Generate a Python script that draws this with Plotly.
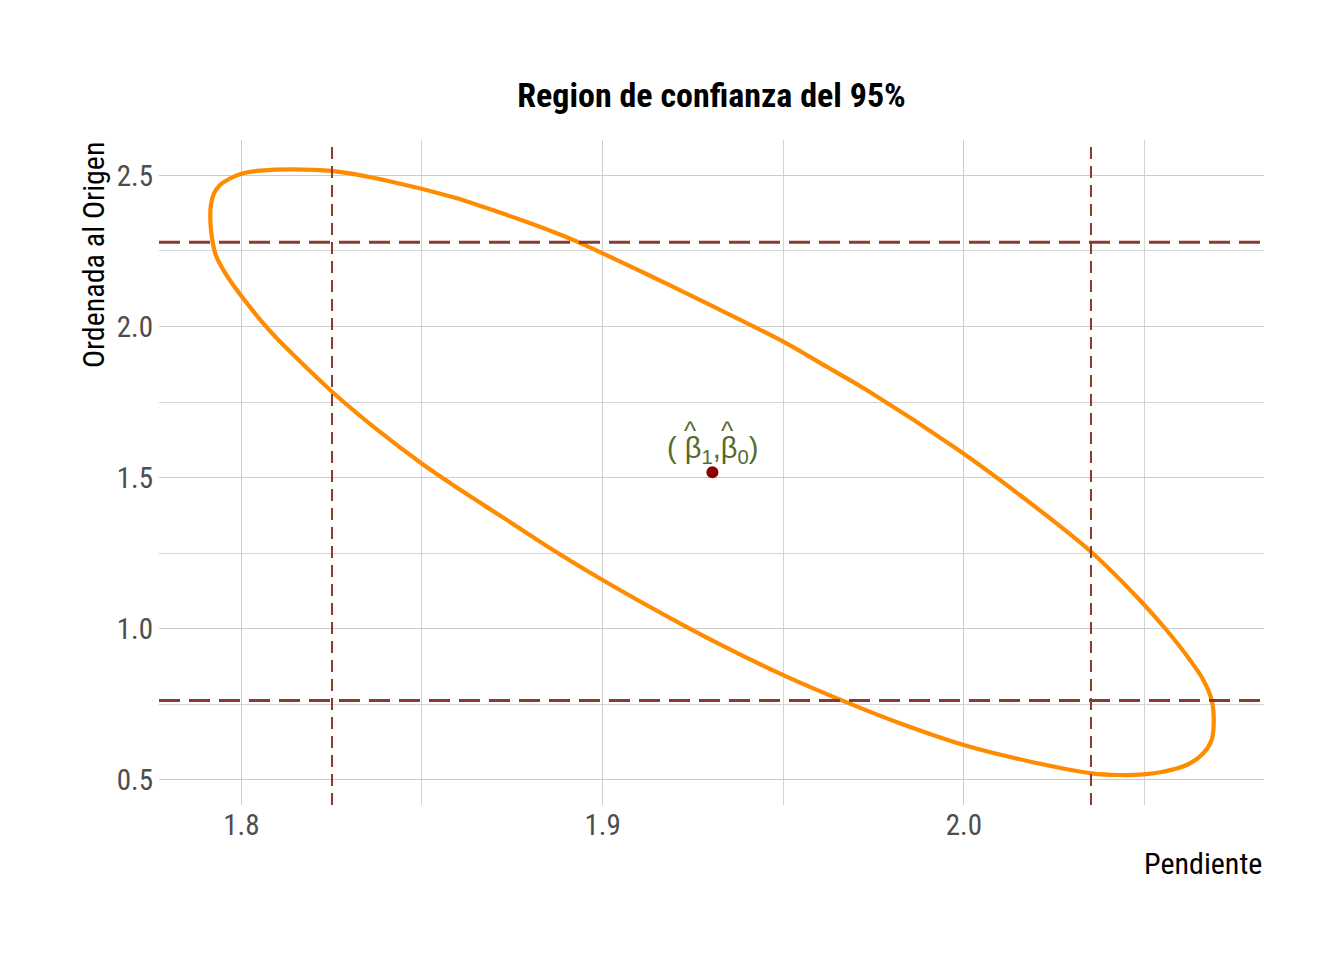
import plotly.graph_objects as go

# Ellipse boundary points (slope, intercept)
ellipse_x = [1.95, 1.962, 1.9731, 1.9985, 2.0155, 2.0352, 2.0487, 2.0561, 2.0626, 2.0663,
             2.0686, 2.0692, 2.0686, 2.0663, 2.0617, 2.0552, 2.0497, 2.0432, 2.0354, 2.0155,
             2.0, 1.9823, 1.9676, 1.95, 1.9362, 1.9223, 1.9, 1.8854, 1.8716, 1.8605,
             1.85, 1.8375, 1.8251, 1.81395, 1.8098, 1.80565, 1.80194, 1.79839, 1.79529, 1.79291,
             1.79189, 1.79142, 1.79156, 1.79244, 1.7941, 1.7966, 1.80047, 1.80518, 1.81395, 1.825,
             1.8416, 1.8587, 1.8679, 1.8771, 1.8864, 1.8928, 1.9, 1.914, 1.9279, 1.95]
ellipse_y = [1.9497, 1.867, 1.7897, 1.591, 1.442, 1.2543, 1.0944, 0.995, 0.8957, 0.8295,
             0.7632, 0.6970, 0.6308, 0.5868, 0.548, 0.5258, 0.517, 0.5149, 0.5205, 0.567,
             0.614, 0.6861, 0.7553, 0.8457, 0.9252, 1.0113, 1.1606, 1.2666, 1.374, 1.4603,
             1.5457, 1.6593, 1.7841, 1.9113, 1.9609, 2.0159, 2.0712, 2.1265, 2.1815, 2.2368,
             2.292, 2.347, 2.4023, 2.441, 2.4685, 2.4884, 2.5073, 2.5159, 2.5205, 2.515,
             2.4795, 2.4278, 2.392, 2.354, 2.313, 2.282, 2.2424, 2.163, 2.082, 1.9497]

center_x = [1.9304]
center_y = [1.517]

slope_limits = [1.8251, 2.0352]
intercept_limits = [0.762, 2.279]

x_ticks = [1.8, 1.9, 2.0]
y_ticks = [0.5, 1.0, 1.5, 2.0, 2.5]
x_minor = [1.85, 1.95, 2.05]
y_minor = [0.75, 1.25, 1.75, 2.25]

FONT = "Roboto Condensed, Liberation Sans Narrow, Arial Narrow, sans-serif"
LINE_COL = "#8B3A2E"

fig = go.Figure()

fig.add_trace(go.Scatter(x=ellipse_x, y=ellipse_y, mode="lines",
                         line=dict(color="#FF8C00", width=4.2, shape="spline", smoothing=1.0),
                         hoverinfo="skip", showlegend=False))

for xv in slope_limits:
    fig.add_vline(x=xv, line=dict(color=LINE_COL, width=2, dash="12px,7px"))
for yv in intercept_limits:
    fig.add_hline(y=yv, line=dict(color=LINE_COL, width=3, dash="21px,9px"))

fig.add_trace(go.Scatter(x=center_x, y=center_y, mode="markers",
                         marker=dict(color="#8B0000", size=12),
                         hoverinfo="skip", showlegend=False))

LBL_COL = "#556B2F"
fig.add_annotation(x=center_x[0], y=center_y[0], text="( β<sub>1</sub>,β<sub>0</sub>)",
                   showarrow=False, yanchor="bottom", yshift=2,
                   font=dict(family="Liberation Sans, Arial", size=29, color=LBL_COL))
for xs in (-22, 15):
    fig.add_annotation(x=center_x[0], y=center_y[0], text="^", showarrow=False,
                       xshift=xs, yshift=41, yanchor="middle",
                       font=dict(family="Liberation Sans, Arial", size=26, color=LBL_COL))

fig.add_annotation(x=1, y=-0.0887, xref="paper", yref="paper", text="Pendiente",
                   showarrow=False, xanchor="right", yanchor="middle",
                   font=dict(family=FONT, size=30, color="black"))
fig.add_annotation(x=-0.0597, y=1, xref="paper", yref="paper", text="Ordenada al Origen",
                   showarrow=False, xanchor="center", yanchor="top", textangle=-90,
                   font=dict(family=FONT, size=30, color="black"))

fig.update_layout(
    width=1344, height=960,
    plot_bgcolor="white", paper_bgcolor="white",
    margin=dict(l=151, r=88, t=132, b=163),
    title=dict(text="<b>Region de confianza del 95%</b>", x=0.5, xref="paper", xanchor="center",
               y=1 - 87 / 960, yanchor="middle",
               font=dict(family=FONT, size=34, color="black")),
    xaxis=dict(range=[1.7772, 2.0831], tickvals=x_ticks, ticktext=[f"{v:.1f}" for v in x_ticks],
               showgrid=True, gridcolor="#cccccc", gridwidth=1.1, zeroline=False, showline=False,
               ticks="", tickfont=dict(family=FONT, size=29, color="#4d4d4d"),
               minor=dict(tickvals=x_minor, showgrid=True, gridcolor="#d4d4d4", gridwidth=1)),
    yaxis=dict(range=[0.4156, 2.6175], tickvals=y_ticks, ticktext=[f"{v:.1f}" for v in y_ticks],
               showgrid=True, gridcolor="#cccccc", gridwidth=1.1, zeroline=False, showline=False,
               ticks="", ticklabelstandoff=5, tickfont=dict(family=FONT, size=29, color="#4d4d4d"),
               minor=dict(tickvals=y_minor, showgrid=True, gridcolor="#d4d4d4", gridwidth=1)),
)

fig.write_html("out.html")
